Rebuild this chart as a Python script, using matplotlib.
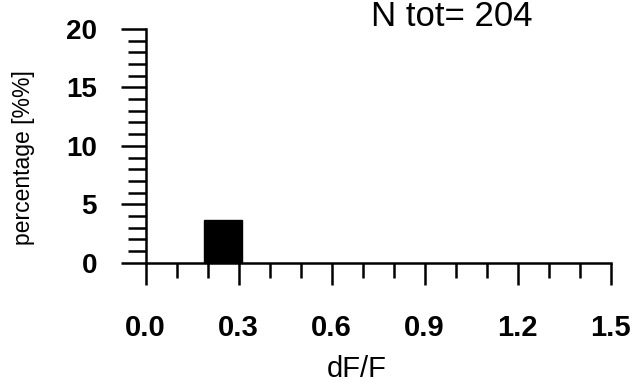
import numpy as np
import matplotlib
matplotlib.use("Agg")
import matplotlib.pyplot as plt

plt.rcParams["font.family"] = ["Liberation Sans", "DejaVu Sans"]

# Histogram data
bin_centers = [0.25]
percentages = [3.65]
n_total = 204

x_major = [0.0, 0.3, 0.6, 0.9, 1.2, 1.5]
y_major = [0, 5, 10, 15, 20]

fig = plt.figure(figsize=(6.33, 3.86), dpi=100)
ax = fig.add_axes([0.2299, 0.3194, 0.7349, 0.6055])

ax.bar(bin_centers, percentages, width=0.12, color="black", edgecolor="black")

ax.set_xlim(0, 1.5)
ax.set_ylim(0, 20)
for s in ["top", "right"]:
    ax.spines[s].set_visible(False)
ax.spines["left"].set_linewidth(1.8)
ax.spines["bottom"].set_linewidth(1.8)

ax.set_xticks(x_major)
ax.set_xticklabels(["%.1f" % v for v in x_major], fontsize=21, fontweight="bold")
ax.set_xticks(np.arange(0, 1.51, 0.1), minor=True)
ax.set_yticks(y_major)
ax.set_yticklabels([str(v) for v in y_major], fontsize=20, fontweight="bold")
ax.set_yticks(np.arange(0, 20.1, 1), minor=True)

ax.tick_params(axis="x", which="major", direction="out", length=16, width=1.8, pad=21)
ax.tick_params(axis="x", which="minor", direction="out", length=11, width=1.8)
ax.tick_params(axis="y", which="major", direction="out", length=18, width=1.8, pad=17)
ax.tick_params(axis="y", which="minor", direction="out", length=13, width=1.8)

fig.text(0.563, 0.044, "dF/F", fontsize=21, ha="center", va="center")
fig.text(0.037, 0.592, "percentage [%%]", fontsize=16.5, rotation=90, ha="center", va="center")
fig.text(0.714, 0.958, "N tot= %d" % n_total, fontsize=25, ha="center", va="center")

fig.savefig("out.png", dpi=100)
